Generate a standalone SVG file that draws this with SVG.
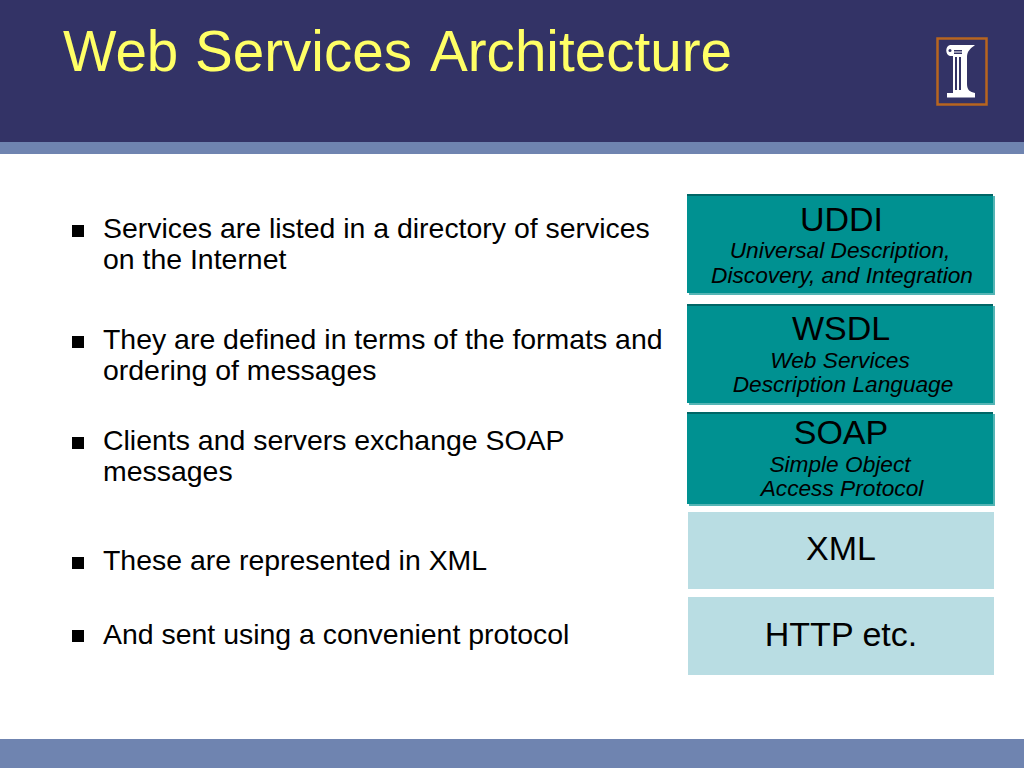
<svg xmlns="http://www.w3.org/2000/svg" width="1024" height="768" viewBox="0 0 1024 768">
<style>
text{font-family:"Liberation Sans",Arial,sans-serif;fill:#000}
.b{font-size:28.45px}
.t{font-size:34px;text-anchor:middle}
.i{font-size:22.7px;font-style:italic;text-anchor:middle}
.dk{fill:#009191}
.top{fill:#006666}
.sh{fill:#55b5b5}
.lt{fill:#b9dde3}
.sq{fill:#000}
</style>
<rect width="1024" height="768" fill="#fff"/>
<g id="header">
<rect x="0" y="0" width="1024" height="142" fill="#333366"/>
<rect x="0" y="142" width="1024" height="12" fill="#6f84b0"/>
<text x="63" y="71" font-size="56.6" style="fill:#ffff66">Web <tspan x="195">Services</tspan> <tspan x="430">Architecture</tspan></text>
</g>
<g id="logo">
<rect x="937.500" y="38.500" width="49" height="66" fill="none" stroke="#b8651f" stroke-width="2.500"/>
<path fill="#fff" d="M950 45H975C971 48 967 51 967 57V84C967 90 970 92 975 93V97.500H947V93H953V56H950C945 55 945 46 950 45Z"/>
<path fill="#333366" d="M955 57H957V90H955ZM959 57H961V90H959ZM954 50H962V51.500H954ZM954 52.500H962V54H954Z"/>
<circle cx="950" cy="50.500" r="1.500" fill="#333366"/>
</g>
<g id="bullets">
<rect class="sq" x="72" y="225" width="12" height="12"/>
<text class="b" x="103" y="238">Services are listed in a directory of services</text>
<text class="b" x="103" y="269">on the Internet</text>
<rect class="sq" x="72" y="336" width="12" height="12"/>
<text class="b" x="103" y="349">They are defined in terms of the formats and</text>
<text class="b" x="103" y="380">ordering of messages</text>
<rect class="sq" x="72" y="437" width="12" height="12"/>
<text class="b" x="103" y="450">Clients and servers exchange SOAP</text>
<text class="b" x="103" y="481">messages</text>
<rect class="sq" x="72" y="557" width="12" height="12"/>
<text class="b" x="103" y="570">These are represented in XML</text>
<rect class="sq" x="72" y="630" width="12" height="12"/>
<text class="b" x="103" y="644">And sent using a convenient protocol</text>
</g>
<g id="uddi">
<rect class="sh" x="689" y="196" width="306" height="99"/>
<rect class="dk" x="687" y="194" width="306" height="99"/>
<rect class="top" x="687" y="194" width="306" height="2"/>
<text class="t" x="841.500" y="231">UDDI</text>
<text class="i" x="840" y="258">Universal Description,</text>
<text class="i" x="842" y="283">Discovery, and Integration</text>
</g>
<g id="wsdl">
<rect class="sh" x="689" y="306" width="306" height="99"/>
<rect class="dk" x="687" y="304" width="306" height="99"/>
<rect class="top" x="687" y="304" width="306" height="2"/>
<text class="t" x="841" y="340">WSDL</text>
<text class="i" x="840" y="368">Web Services</text>
<text class="i" x="843" y="392">Description Language</text>
</g>
<g id="soap">
<rect class="sh" x="689" y="414" width="306" height="92"/>
<rect class="dk" x="687" y="412" width="306" height="92"/>
<rect class="top" x="687" y="412" width="306" height="2"/>
<text class="t" x="841" y="444">SOAP</text>
<text class="i" x="840" y="472">Simple Object</text>
<text class="i" x="842" y="496">Access Protocol</text>
</g>
<g id="xml">
<rect class="lt" x="688" y="512" width="306" height="77"/>
<text class="t" x="841" y="560">XML</text>
</g>
<g id="http">
<rect class="lt" x="688" y="597" width="306" height="78"/>
<text class="t" x="841" y="646">HTTP etc.</text>
</g>
<g id="connectors"/>
<g id="footer">
<rect x="0" y="739" width="1024" height="29" fill="#6f84b0"/>
</g>
</svg>
